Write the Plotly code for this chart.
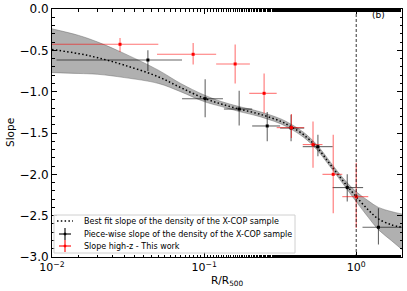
import numpy as np
import plotly.graph_objects as go

# Best-fit slope curve (X-COP) and its band
fit_x = [0.01, 0.015, 0.02, 0.03, 0.05, 0.07, 0.1, 0.13, 0.17, 0.22, 0.26, 0.32, 0.37, 0.45, 0.55, 0.65, 0.75, 0.87, 1.0, 1.2, 1.4, 1.7, 2.0]
fit_y = [-0.49, -0.54, -0.59, -0.68, -0.82, -0.95, -1.08, -1.15, -1.21, -1.26, -1.30, -1.36, -1.42, -1.52, -1.67, -1.84, -1.99, -2.14, -2.27, -2.43, -2.54, -2.61, -2.64]
fit_up = [-0.24, -0.32, -0.40, -0.54, -0.74, -0.90, -1.04, -1.12, -1.18, -1.23, -1.27, -1.33, -1.39, -1.49, -1.64, -1.81, -1.96, -2.10, -2.21, -2.32, -2.40, -2.45, -2.48]
fit_lo = [-0.77, -0.78, -0.79, -0.83, -0.90, -1.00, -1.12, -1.18, -1.24, -1.29, -1.33, -1.39, -1.45, -1.55, -1.70, -1.87, -2.02, -2.18, -2.33, -2.52, -2.67, -2.80, -2.91]

# Piece-wise slope (X-COP)
pw_x = [0.0427, 0.1016, 0.17, 0.26, 0.373, 0.56, 0.873, 1.40]
pw_y = [-0.617, -1.085, -1.21, -1.415, -1.44, -1.665, -2.16, -2.64]
pw_xlo = [0.0107, 0.0716, 0.135, 0.207, 0.316, 0.445, 0.70, 1.10]
pw_xhi = [0.0716, 0.133, 0.207, 0.316, 0.455, 0.70, 1.11, 2.2]
pw_ylo = [-0.75, -1.31, -1.41, -1.60, -1.60, -1.78, -2.33, -2.85]
pw_yhi = [-0.50, -0.85, -0.99, -1.245, -1.28, -1.52, -2.00, -2.41]

# High-z slope (this work)
hz_x = [0.028, 0.0847, 0.16, 0.248, 0.375, 0.52, 0.706, 1.0]
hz_y = [-0.427, -0.548, -0.665, -1.02, -1.435, -1.64, -2.00, -2.27]
hz_xlo = [0.009, 0.049, 0.12, 0.198, 0.30, 0.445, 0.60, 0.81]
hz_xhi = [0.05, 0.12, 0.20, 0.30, 0.455, 0.60, 0.81, 1.20]
hz_ylo = [-0.52, -0.67, -0.90, -1.26, -1.56, -1.92, -2.47, -2.65]
hz_yhi = [-0.35, -0.41, -0.43, -0.78, -1.27, -1.36, -1.52, -1.86]

legend_labels = ["Best fit slope of the density of the X-COP sample",
                 "Piece-wise slope of the density of the X-COP sample",
                 "Slope high-z - This work"]

# plot-area geometry in pixels
W, H = 407, 291
L, R, T, B = 52, 5, 9, 34
PW, PH = W - L - R, H - T - B


def px(xp):
    return (xp - L) / PW


def py(yp):
    return (H - B - yp) / PH


fig = go.Figure()

# band
fig.add_trace(go.Scatter(x=fit_x, y=fit_up, mode="lines", line=dict(color="rgba(90,90,90,0.7)", width=0.6, shape="spline"),
                         showlegend=False, hoverinfo="skip"))
fig.add_trace(go.Scatter(x=fit_x, y=fit_lo, mode="lines", line=dict(color="rgba(90,90,90,0.7)", width=0.6, shape="spline"),
                         fill="tonexty", fillcolor="rgba(150,150,150,0.75)", showlegend=False, hoverinfo="skip"))
fig.add_trace(go.Scatter(x=fit_x, y=fit_y, mode="lines", line=dict(color="black", width=1.5, dash="1.5px,2.3px", shape="spline"),
                         showlegend=False))


def errs(v, lo, hi):
    v = np.array(v); lo = np.array(lo); hi = np.array(hi)
    return (hi - v).tolist(), (v - lo).tolist()

ex_p, ex_m = errs(pw_x, pw_xlo, pw_xhi)
ey_p, ey_m = errs(pw_y, pw_ylo, pw_yhi)
fig.add_trace(go.Scatter(x=pw_x, y=pw_y, mode="markers", marker=dict(color="black", size=3, symbol="square"),
                         error_x=dict(type="data", symmetric=False, array=ex_p, arrayminus=ex_m, color="rgba(0,0,0,0.6)", thickness=1.1, width=0),
                         error_y=dict(type="data", symmetric=False, array=ey_p, arrayminus=ey_m, color="rgba(0,0,0,0.6)", thickness=1.1, width=0),
                         showlegend=False))

ex_p, ex_m = errs(hz_x, hz_xlo, hz_xhi)
ey_p, ey_m = errs(hz_y, hz_ylo, hz_yhi)
fig.add_trace(go.Scatter(x=hz_x, y=hz_y, mode="markers", marker=dict(color="red", size=3, symbol="square"),
                         error_x=dict(type="data", symmetric=False, array=ex_p, arrayminus=ex_m, color="rgba(255,0,0,0.55)", thickness=1.1, width=0),
                         error_y=dict(type="data", symmetric=False, array=ey_p, arrayminus=ey_m, color="rgba(255,0,0,0.55)", thickness=1.1, width=0),
                         showlegend=False))

fig.add_vline(x=1.0, line=dict(color="black", width=0.8, dash="3px,2px"))
fig.add_annotation(text="(b)", x=px(378), y=py(15), xref="paper", yref="paper", showarrow=False,
                   font=dict(size=9, color="black"), xanchor="center", yanchor="middle")

# manual legend
shapes = [dict(type="rect", xref="paper", yref="paper", x0=px(54), x1=px(295), y0=py(253), y1=py(215),
               fillcolor="rgba(255,255,255,0.8)", line=dict(color="#d0d0d0", width=1), layer="above")]
rows = [221, 234, 246]
shapes.append(dict(type="line", xref="paper", yref="paper", x0=px(57), x1=px(73), y0=py(rows[0]), y1=py(rows[0]),
                   line=dict(color="black", width=1.5, dash="1.5px,2.3px"), layer="above"))
for yr, col in [(rows[1], "black"), (rows[2], "red")]:
    shapes.append(dict(type="line", xref="paper", yref="paper", x0=px(59), x1=px(71), y0=py(yr), y1=py(yr),
                       line=dict(color=col, width=1.1), layer="above"))
    shapes.append(dict(type="line", xref="paper", yref="paper", x0=px(65), x1=px(65), y0=py(yr - 6), y1=py(yr + 6),
                       line=dict(color=col, width=1.1), layer="above"))
    shapes.append(dict(type="rect", xref="paper", yref="paper", x0=px(64), x1=px(66), y0=py(yr + 1), y1=py(yr - 1),
                       line=dict(color=col, width=0.5), fillcolor=col, layer="above"))
fig.update_layout(shapes=list(fig.layout.shapes) + shapes)
for yr, lab in zip(rows, legend_labels):
    fig.add_annotation(text=lab, x=px(82), y=py(yr), xref="paper", yref="paper", showarrow=False,
                       xanchor="left", yanchor="middle", font=dict(size=8, color="black"))

# axis titles
fig.add_annotation(text="R/R<sub>500</sub>", x=px(227), y=py(281), xref="paper", yref="paper", showarrow=False,
                   xanchor="center", yanchor="middle", font=dict(size=10.5, color="black"))
fig.add_annotation(text="Slope", x=px(10), y=py(133), xref="paper", yref="paper", showarrow=False,
                   xanchor="center", yanchor="middle", textangle=-90, font=dict(size=10.5, color="black"))

fig.update_xaxes(type="log", range=[-2, np.log10(2.0)], tickvals=[0.01, 0.1, 1],
                 ticktext=["10<sup>−2</sup>", "10<sup>−1</sup>", "10<sup>0</sup>"],
                 ticks="inside", ticklen=5, tickwidth=1, tickcolor="black",
                 minor=dict(ticks="inside", ticklen=2.5, tickcolor="black", showgrid=False),
                 showline=True, linecolor="black", linewidth=1, mirror="allticks",
                 showgrid=False, zeroline=False, automargin=False,
                 tickfont=dict(size=11))
fig.update_yaxes(range=[-3.0, 0.0], dtick=0.5, tickformat=".1f",
                 ticks="inside", ticklen=5, tickwidth=1, tickcolor="black",
                 minor=dict(ticks="inside", ticklen=2.5, dtick=0.1, tickcolor="black", showgrid=False),
                 showline=True, linecolor="black", linewidth=1, mirror="allticks",
                 showgrid=False, zeroline=False, automargin=False,
                 tickfont=dict(size=12))

fig.update_layout(width=W, height=H, margin=dict(l=L, r=R, t=T, b=B),
                  plot_bgcolor="white", paper_bgcolor="white",
                  font=dict(family="DejaVu Sans", color="black"),
                  showlegend=False)

fig.write_html("out.html", config={"displayModeBar": False},
               post_script="document.body.style.margin='0px';document.body.style.overflow='hidden';")
